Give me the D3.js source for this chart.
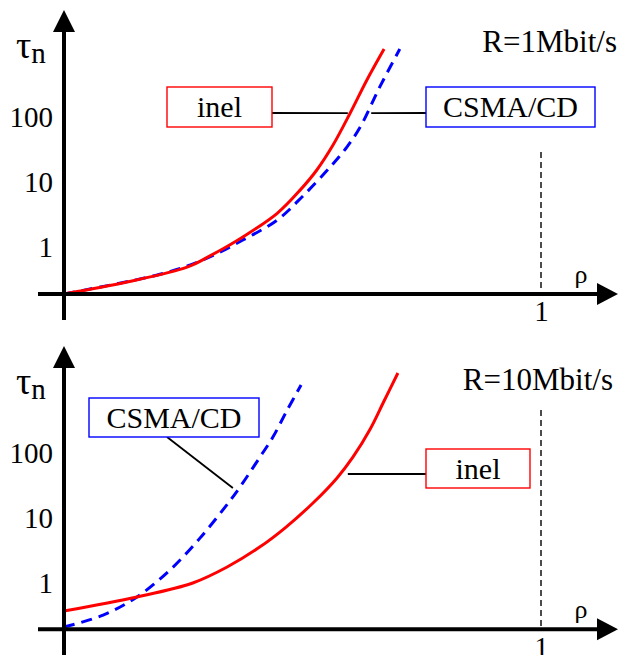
<!DOCTYPE html>
<html>
<head>
<meta charset="utf-8">
<script src="https://cdn.jsdelivr.net/npm/d3@7"></script>
<style>
  html, body { margin: 0; padding: 0; background: #fff; }
  svg { display: block; }
</style>
</head>
<body>
<svg id="chart" width="618" height="655"></svg>
<script>
// Mean normalised delay τn against load ρ, log delay axis, for two bit rates.
const tauTicks = [1, 10, 100];
const rhoTicks = [1];

// R = 1 Mbit/s
const rho1Inel = [0, 0.132, 0.258, 0.306, 0.375, 0.447, 0.495, 0.530, 0.564, 0.600, 0.635, 0.671];
const tau1Inel = [0.19, 0.29, 0.49, 0.73, 1.43, 3.3, 7.5, 15.3, 37, 115, 371, 1112];
const rho1Csma = [0, 0.201, 0.291, 0.375, 0.447, 0.501, 0.558, 0.593, 0.621, 0.662, 0.704];
const tau1Csma = [0.19, 0.38, 0.63, 1.28, 2.6, 6.1, 17, 34.5, 70, 290, 1112];

// R = 10 Mbit/s
const rho10Inel = [0, 0.153, 0.270, 0.342, 0.411, 0.463, 0.522, 0.572, 0.606, 0.642, 0.671, 0.700];
const tau10Inel = [0.37, 0.61, 1.0, 1.76, 3.6, 7.0, 17, 41, 87, 234, 631, 1702];
const rho10Csma = [0, 0.082, 0.153, 0.222, 0.285, 0.338, 0.369, 0.411, 0.438, 0.468, 0.497];
const tau10Csma = [0.21, 0.32, 0.61, 1.58, 4.9, 14.8, 30, 87, 176, 459, 1112];

const seriesNames = ["inel", "CSMA/CD"];
const rateLabels = ["R=1Mbit/s", "R=10Mbit/s"];

const RED = "#ff0000";
const BLUE = "#0000ff";
const FONT = 29;
const SERIF = "'Liberation Serif', serif";

const svg = d3.select("#chart");

// serif text helper
function label(sel, size) {
  return sel.style("font-family", SERIF).attr("font-size", size).attr("fill", "#000");
}

// shared load axis
const x = d3.scaleLinear().domain([0, 1]).range([64, 541]);

const panels = [
  {
    rate: rateLabels[0],
    inel: d3.zip(rho1Inel, tau1Inel),
    csma: d3.zip(rho1Csma, tau1Csma),
    yRange: [247, 117],       // pixel rows of τ = 1 and τ = 100
    tauFloor: 0.19,           // τ where the load axis sits
    capTop: 29,               // top of the ρ = 1 marker, in τ
    rateAnchor: [617, 52],
    boxes: [
      { name: seriesNames[0], color: RED,  x0: 167, y0: 87, x1: 272, y1: 127,
        from: [272, 113], to: [0.595, 115] },
      { name: seriesNames[1], color: BLUE, x0: 426, y0: 87, x1: 595, y1: 127,
        from: [426, 113], to: [0.644, 115] }
    ]
  },
  {
    rate: rateLabels[1],
    inel: d3.zip(rho10Inel, tau10Inel),
    csma: d3.zip(rho10Csma, tau10Csma),
    yRange: [583, 453],
    tauFloor: 0.195,
    capTop: 459,
    rateAnchor: [613, 390],
    boxes: [
      { name: seriesNames[1], color: BLUE, x0: 89, y0: 398, x1: 259, y1: 437,
        from: [167, 437], to: [0.354, 29] },
      { name: seriesNames[0], color: RED,  x0: 426, y0: 449, x1: 530, y1: 488,
        from: [426, 474], to: [0.595, 47.5] }
    ]
  }
];

panels.forEach((p, i) => {
  const y = d3.scaleLog().domain([1, 100]).range(p.yRange);
  const g = svg.append("g");
  const axisY = y(p.tauFloor);
  const yTop = y(1) - 237;                       // arrow tip of the τ axis
  const yBottom = i === 0 ? axisY + 26 : 660;

  // ρ = 1 marker
  g.append("line")
    .attr("x1", x(1)).attr("x2", x(1))
    .attr("y1", y(p.capTop)).attr("y2", axisY)
    .attr("stroke", "#000").attr("stroke-width", 1.4)
    .attr("stroke-dasharray", "6,4");

  // curves
  const line = d3.line()
    .x(d => x(d[0]))
    .y(d => y(d[1]))
    .curve(d3.curveCatmullRom.alpha(0.5));

  g.append("path").datum(p.csma)
    .attr("d", line)
    .attr("fill", "none").attr("stroke", BLUE)
    .attr("stroke-width", 3).attr("stroke-dasharray", "11,7");

  g.append("path").datum(p.inel)
    .attr("d", line)
    .attr("fill", "none").attr("stroke", RED)
    .attr("stroke-width", 3);

  // axes
  g.append("line")
    .attr("x1", 38).attr("x2", 600)
    .attr("y1", axisY).attr("y2", axisY)
    .attr("stroke", "#000").attr("stroke-width", 4);
  g.append("path")
    .attr("d", `M618,${axisY} L597,${axisY - 11} L597,${axisY + 11} Z`)
    .attr("fill", "#000");

  g.append("line")
    .attr("x1", x(0)).attr("x2", x(0))
    .attr("y1", yBottom).attr("y2", yTop + 20)
    .attr("stroke", "#000").attr("stroke-width", 4);
  g.append("path")
    .attr("d", `M${x(0)},${yTop} L${x(0) - 11},${yTop + 22} L${x(0) + 11},${yTop + 22} Z`)
    .attr("fill", "#000");

  // tick labels
  const yAxis = g.append("g")
    .attr("transform", `translate(${x(0)},0)`)
    .call(d3.axisLeft(y).tickValues(tauTicks).tickFormat(d3.format("d"))
      .tickSize(0).tickPadding(11));
  yAxis.select(".domain").remove();
  label(yAxis.selectAll("text"), FONT);

  const xAxis = g.append("g")
    .attr("transform", `translate(0,${axisY})`)
    .call(d3.axisBottom(x).tickValues(rhoTicks).tickFormat(d3.format("d"))
      .tickSize(0).tickPadding(7));
  xAxis.select(".domain").remove();
  label(xAxis.selectAll("text"), FONT);

  // axis titles
  const tau = label(g.append("text"), 38)
    .attr("x", 16).attr("y", y(1) - 189);
  tau.append("tspan").text("τ");
  tau.append("tspan").attr("font-size", FONT).attr("dy", 5).text("n");

  label(g.append("text"), 26)
    .attr("x", 581).attr("y", axisY - 11)
    .attr("text-anchor", "middle")
    .text("ρ");

  label(g.append("text"), 31)
    .attr("x", p.rateAnchor[0]).attr("y", p.rateAnchor[1])
    .attr("text-anchor", "end")
    .text(p.rate);

  // labelled boxes with leader lines
  p.boxes.forEach(b => {
    g.append("line")
      .attr("x1", b.from[0]).attr("y1", b.from[1])
      .attr("x2", x(b.to[0])).attr("y2", y(b.to[1]))
      .attr("stroke", "#000").attr("stroke-width", 1.8);
    g.append("rect")
      .attr("x", b.x0).attr("y", b.y0)
      .attr("width", b.x1 - b.x0).attr("height", b.y1 - b.y0)
      .attr("fill", "#fff").attr("stroke", b.color).attr("stroke-width", 1.4);
    label(g.append("text"), 30)
      .attr("x", (b.x0 + b.x1) / 2).attr("y", b.y0 + 30)
      .attr("text-anchor", "middle")
      .text(b.name);
  });
});
</script>
</body>
</html>
